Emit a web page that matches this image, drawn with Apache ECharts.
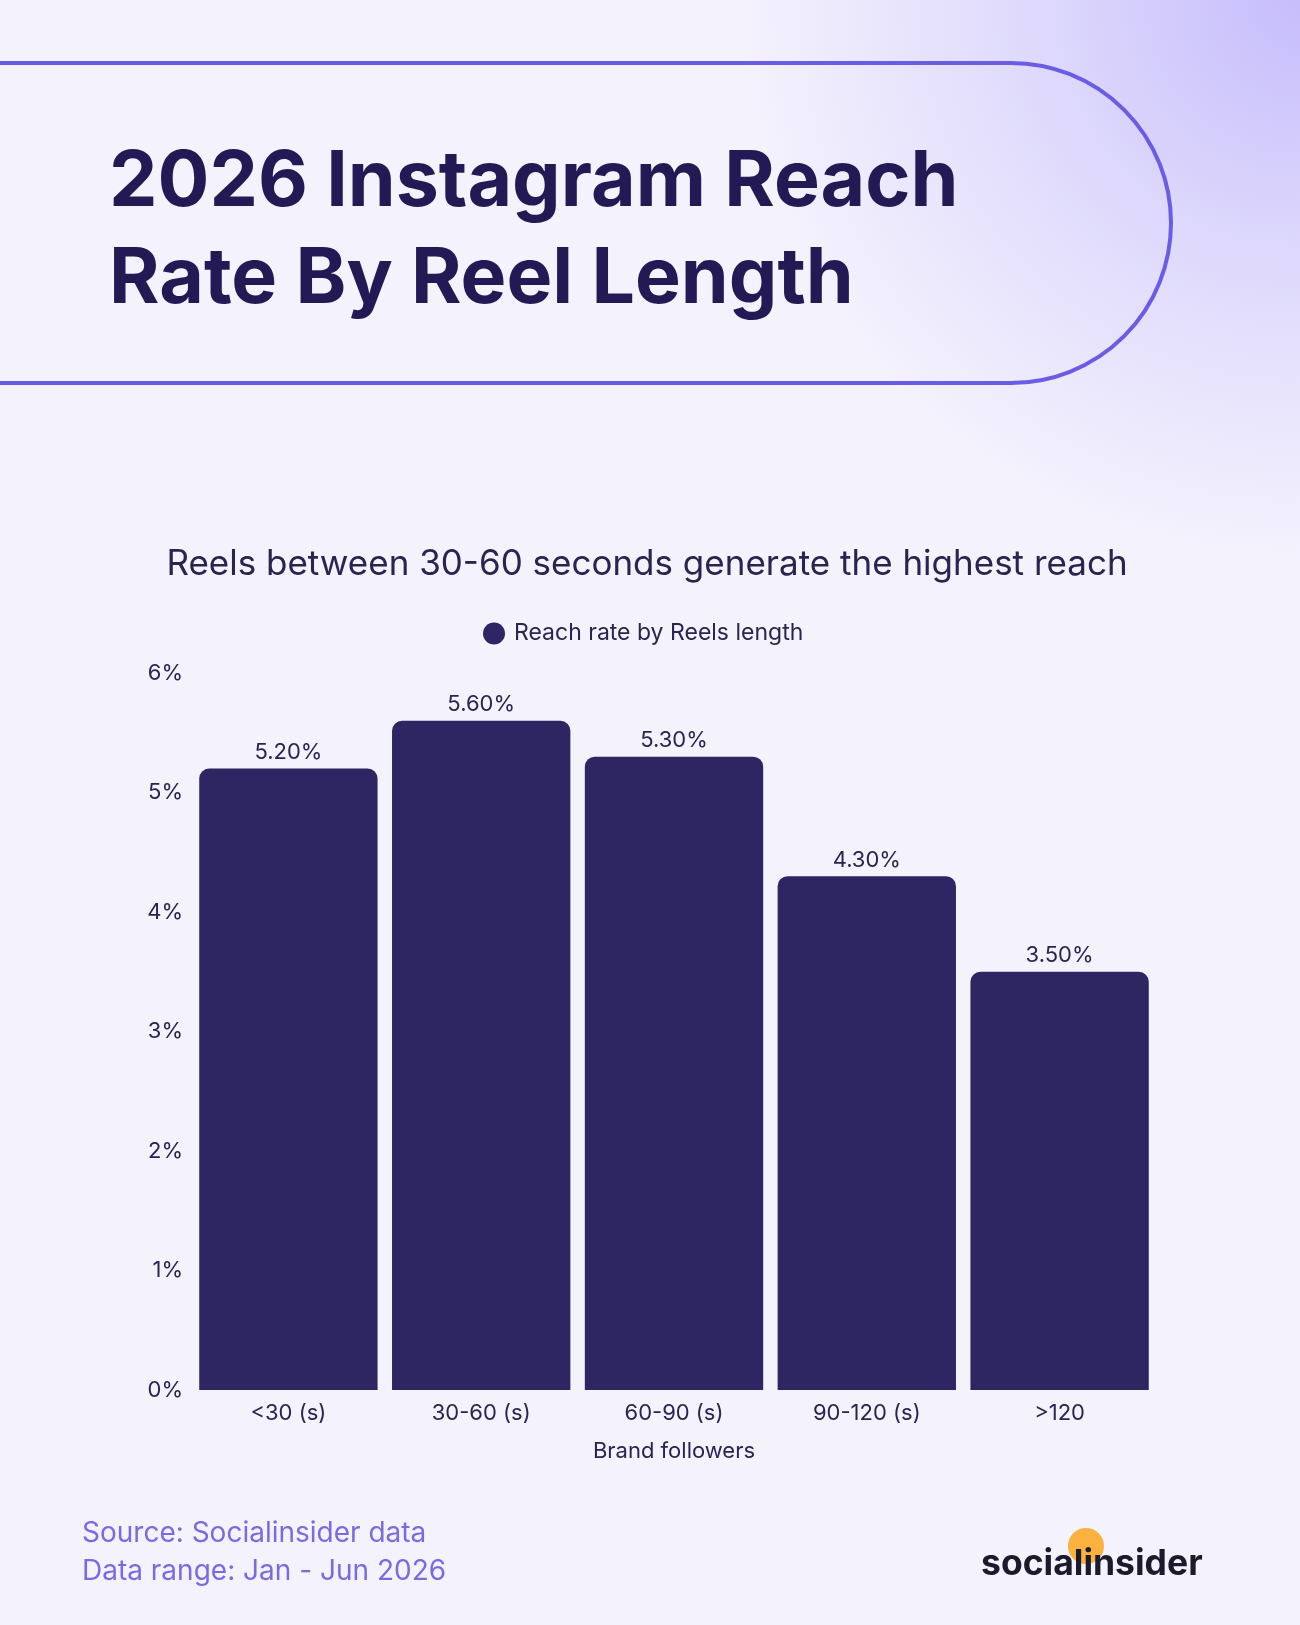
<!DOCTYPE html>
<html>
<head>
<meta charset="utf-8">
<script src="https://cdn.jsdelivr.net/npm/echarts@6/dist/echarts.min.js"></script>
<style>
  html, body { margin: 0; padding: 0; background: #f4f2fd; }
  #chart { width: 1300px; height: 1625px; }
</style>
</head>
<body>
<div id="chart"></div>
<script>
// 数据
const categories = ['<30 (s)', '30-60 (s)', '60-90 (s)', '90-120 (s)', '>120'];
const reachRate = [5.2, 5.6, 5.3, 4.3, 3.5];
const yTicks = [0, 1, 2, 3, 4, 5, 6];

const seriesName = 'Reach rate by Reels length';
const dark = '#2a2450';
const font = 'Inter';

const chart = echarts.init(document.getElementById('chart'));

const option = {
  backgroundColor: 'transparent',
  textStyle: { fontFamily: font },
  grid: { left: 192, right: 144, top: 673, bottom: 235 },
  legend: {
    data: [seriesName],
    left: 478,
    top: 617,
    icon: 'circle',
    itemWidth: 22,
    itemHeight: 22,
    itemGap: 10,
    textStyle: { fontSize: 23, color: dark, fontFamily: font, padding: [0, 0, 0, 4] }
  },
  xAxis: {
    type: 'category',
    data: categories,
    name: 'Brand followers',
    nameLocation: 'middle',
    nameGap: 50,
    nameTextStyle: { fontSize: 22, color: dark },
    axisLine: { show: false },
    axisTick: { show: false },
    axisLabel: { fontSize: 22, color: dark, margin: 12 }
  },
  yAxis: {
    type: 'value',
    min: yTicks[0],
    max: yTicks[yTicks.length - 1],
    interval: 1,
    splitLine: { show: false },
    axisLine: { show: false },
    axisTick: { show: false },
    axisLabel: { fontSize: 22, color: dark, margin: 9, formatter: '{value}%' }
  },
  series: [{
    name: seriesName,
    type: 'bar',
    data: reachRate,
    barCategoryGap: '7.5%',
    itemStyle: { color: '#2e2563', borderRadius: [10, 10, 0, 0] },
    label: {
      show: true,
      position: 'top',
      distance: 5,
      fontSize: 22,
      color: dark,
      formatter: p => p.value.toFixed(2) + '%'
    }
  }],
  graphic: [
    // 背景渐变（右上角）
    {
      type: 'rect', z: -10, silent: true,
      shape: { x: 0, y: 0, width: 1300, height: 1625 },
      style: {
        fill: {
          type: 'radial', x: 1300, y: 0, r: 560, global: true,
          colorStops: [
            { offset: 0, color: '#c6bdfb' },
            { offset: 0.45, color: '#ddd8fc' },
            { offset: 1, color: '#f4f2fd' }
          ]
        }
      }
    },
    // 标题框
    {
      type: 'line', silent: true,
      shape: { x1: -10, y1: 63, x2: 1011, y2: 63 },
      style: { stroke: '#6b5ce6', lineWidth: 4 }
    },
    {
      type: 'line', silent: true,
      shape: { x1: -10, y1: 383, x2: 1011, y2: 383 },
      style: { stroke: '#6b5ce6', lineWidth: 4 }
    },
    {
      type: 'arc', silent: true,
      shape: { cx: 1011, cy: 223, r: 160, startAngle: -Math.PI / 2, endAngle: Math.PI / 2, clockwise: true },
      style: { stroke: '#6b5ce6', lineWidth: 4, fill: null }
    },
    {
      type: 'text', silent: true, left: 109, top: 134,
      style: {
        text: '2026 Instagram Reach\nRate By Reel Length',
        fontSize: 77, fontWeight: 700, fontFamily: font,
        lineHeight: 97, fill: '#231a55'
      }
    },
    // 副标题
    {
      type: 'text', silent: true,
      style: {
        x: 647, y: 564, text: 'Reels between 30-60 seconds generate the highest reach',
        textAlign: 'center', textVerticalAlign: 'middle',
        fontSize: 35, fontFamily: font, fill: dark
      }
    },
    // 来源
    {
      type: 'text', silent: true, left: 82, top: 1515,
      style: {
        text: 'Source: Socialinsider data\nData range: Jan - Jun 2026',
        fontSize: 28, lineHeight: 38, fontFamily: font, fill: '#7b6be0'
      }
    },
    // logo
    {
      type: 'circle', silent: true,
      shape: { cx: 1086, cy: 1546, r: 18 },
      style: { fill: '#f9b13f' }
    },
    {
      type: 'text', silent: true,
      style: {
        x: 981, y: 1582, text: 'socialinsider',
        textVerticalAlign: 'bottom',
        fontSize: 35.5, fontWeight: 700, fontFamily: font, fill: '#1c1b2e'
      }
    }
  ]
};

chart.setOption(option);
</script>
</body>
</html>
